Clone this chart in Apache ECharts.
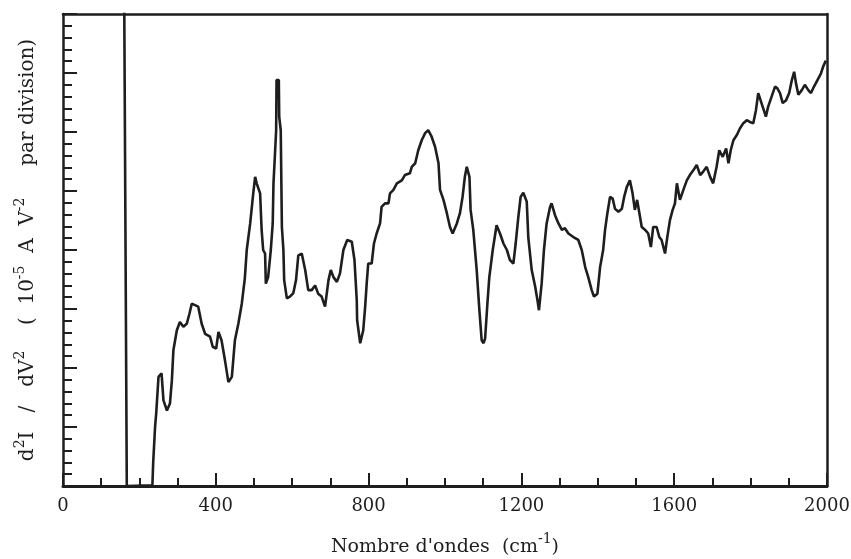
<!DOCTYPE html>
<html>
<head>
<meta charset="utf-8">
<script src="https://cdn.jsdelivr.net/npm/echarts@6/dist/echarts.min.js"></script>
<style>
  html, body { margin: 0; padding: 0; background: #fff; }
  #chart { width: 851px; height: 559px; }
</style>
</head>
<body>
<div id="chart"></div>
<script>
// wave numbers (cm-1)
var waveNumbers = [
    160, 167, 234, 236, 241, 244, 250, 258, 263, 272, 280, 285, 289, 298, 306, 315, 324, 331, 337, 354, 363, 372,
    385, 392, 401, 407, 415, 424, 433, 442, 450, 459, 468, 476, 481, 490, 498, 503, 507, 516, 520, 524, 529, 531,
    537, 544, 549, 551, 555, 558, 559, 565, 566, 570, 573, 577, 579, 586, 594, 603, 610, 616, 625, 634, 642, 651,
    660, 668, 677, 686, 695, 701, 708, 717, 725, 734, 744, 756, 763, 769, 770, 778, 786, 791, 795, 799, 808, 814,
    821, 830, 834, 843, 852, 856, 865, 874, 887, 895, 908, 913, 922, 930, 939, 948, 956, 965, 974, 983, 987, 996,
    1005, 1013, 1020, 1031, 1039, 1046, 1052, 1057, 1064, 1067, 1074, 1083, 1090, 1096, 1101, 1105, 1111, 1116,
    1125, 1135, 1144, 1153, 1162, 1170, 1179, 1185, 1192, 1198, 1205, 1214, 1218, 1227, 1236, 1242, 1246, 1253,
    1259, 1266, 1275, 1279, 1288, 1297, 1306, 1314, 1323, 1336, 1349, 1358, 1367, 1375, 1384, 1390, 1399, 1406,
    1414, 1419, 1425, 1432, 1439, 1445, 1454, 1463, 1469, 1476, 1484, 1491, 1497, 1503, 1509, 1515, 1524, 1532,
    1539, 1545, 1554, 1561, 1567, 1576, 1582, 1589, 1596, 1602, 1607, 1615, 1624, 1633, 1641, 1650, 1659, 1668,
    1676, 1685, 1694, 1702, 1711, 1718, 1727, 1736, 1742, 1748, 1755, 1764, 1772, 1781, 1790, 1798, 1807, 1814,
    1820, 1826, 1833, 1840, 1846, 1855, 1864, 1870, 1877, 1884, 1893, 1901, 1908, 1914, 1919, 1925, 1934, 1942,
    1951, 1958, 1966, 1975, 1984, 1990, 1997
];
// d2I/dV2 in divisions (10-5 A V-2 per division)
var signal = [
    8.6, 0, 0.01, 0.38, 1.00, 1.23, 1.85, 1.91, 1.45, 1.28, 1.40, 1.79, 2.30, 2.64, 2.78, 2.70, 2.75, 2.92, 3.09,
    3.04, 2.75, 2.58, 2.53, 2.36, 2.33, 2.61, 2.47, 2.13, 1.76, 1.85, 2.47, 2.75, 3.09, 3.52, 4.00, 4.45, 4.96,
    5.24, 5.13, 4.96, 4.34, 4.00, 3.94, 3.43, 3.54, 4.00, 4.45, 5.13, 5.64, 6.03, 6.88, 6.88, 6.26, 6.03, 4.39,
    4.00, 3.49, 3.18, 3.21, 3.27, 3.49, 3.91, 3.94, 3.66, 3.32, 3.32, 3.40, 3.26, 3.21, 3.04, 3.49, 3.66, 3.54,
    3.46, 3.60, 4.00, 4.17, 4.14, 3.83, 3.15, 2.81, 2.42, 2.64, 3.04, 3.43, 3.77, 3.77, 4.11, 4.28, 4.45, 4.73,
    4.79, 4.79, 4.96, 5.02, 5.13, 5.18, 5.27, 5.30, 5.41, 5.47, 5.69, 5.86, 5.98, 6.03, 5.92, 5.75, 5.47, 5.02,
    4.85, 4.62, 4.39, 4.28, 4.45, 4.62, 4.90, 5.24, 5.41, 5.24, 4.68, 4.34, 3.66, 2.98, 2.47, 2.42, 2.50, 3.09,
    3.54, 4.00, 4.42, 4.28, 4.11, 4.00, 3.83, 3.77, 4.11, 4.56, 4.90, 4.97, 4.82, 4.22, 3.66, 3.38, 3.15, 2.98,
    3.43, 4.00, 4.45, 4.73, 4.79, 4.59, 4.45, 4.34, 4.37, 4.28, 4.22, 4.17, 4.00, 3.71, 3.54, 3.32, 3.21, 3.26,
    3.71, 4.00, 4.34, 4.62, 4.90, 4.87, 4.70, 4.65, 4.70, 4.90, 5.07, 5.18, 4.96, 4.68, 4.85, 4.62, 4.39, 4.34,
    4.28, 4.05, 4.39, 4.39, 4.22, 4.17, 3.94, 4.22, 4.51, 4.68, 4.79, 5.13, 4.85, 5.02, 5.18, 5.27, 5.35, 5.44,
    5.27, 5.33, 5.41, 5.24, 5.13, 5.41, 5.69, 5.58, 5.72, 5.47, 5.69, 5.86, 5.95, 6.06, 6.15, 6.20, 6.17, 6.15,
    6.37, 6.66, 6.54, 6.40, 6.26, 6.43, 6.60, 6.77, 6.74, 6.66, 6.49, 6.54, 6.66, 6.88, 7.02, 6.82, 6.63, 6.71,
    6.80, 6.71, 6.66, 6.77, 6.88, 6.99, 7.11, 7.21
];
var xTicks = [0, 400, 800, 1200, 1600, 2000];

var chart = echarts.init(document.getElementById('chart'));

var seriesData = [];
for (let i = 0; i < waveNumbers.length; i++) {
    seriesData.push([waveNumbers[i], signal[i]]);
}

var ink = '#1e1e1e';
var serif = '"DejaVu Serif", "Liberation Serif", serif';

chart.setOption({
    animation: false,
    backgroundColor: '#fff',
    grid: {
        left: 63,
        right: 24,
        top: 14,
        bottom: 73,
        containLabel: false,
        outerBoundsMode: 'none'
    },
    xAxis: [{
        type: 'value',
        min: xTicks[0],
        max: xTicks[xTicks.length - 1],
        interval: 400,
        name: 'Nombre d\'ondes  (cm{sup|-1})',
        nameLocation: 'middle',
        nameGap: 46,
        nameTextStyle: {
            color: ink,
            fontFamily: serif,
            fontSize: 19,
            lineHeight: 30,
            rich: {
                sup: { fontSize: 14, lineHeight: 15, verticalAlign: 'top', fontFamily: serif, color: ink }
            }
        },
        axisLine: { lineStyle: { color: ink, width: 3 } },
        axisTick: { inside: true, length: 13, lineStyle: { color: ink, width: 2 } },
        minorTick: { show: true, splitNumber: 4, length: 8, lineStyle: { color: ink, width: 2 } },
        axisLabel: {
            color: ink,
            fontFamily: serif,
            fontSize: 18,
            margin: 11,
            formatter: function (value) {
                return String(value);
            }
        },
        splitLine: { show: false }
    }, {
        type: 'value',
        position: 'top',
        min: 0,
        max: 2000,
        axisLine: { show: true, onZero: false, lineStyle: { color: ink, width: 2.5 } },
        axisTick: { show: false },
        axisLabel: { show: false },
        splitLine: { show: false }
    }],
    yAxis: [{
        type: 'value',
        min: 0,
        max: 8,
        interval: 1,
        name: 'd{sup|2}I   /   dV{sup|2}    (  10{sup|-5}  A  V{sup|-2}     par division)',
        nameLocation: 'middle',
        nameGap: 20,
        nameRotate: 90,
        nameTextStyle: {
            color: ink,
            fontFamily: serif,
            fontSize: 20,
            lineHeight: 30,
            rich: {
                sup: { fontSize: 14, lineHeight: 15, verticalAlign: 'top', fontFamily: serif, color: ink }
            }
        },
        axisLine: { show: true, lineStyle: { color: ink, width: 2.5 } },
        axisTick: { inside: true, length: 14, lineStyle: { color: ink, width: 2 } },
        minorTick: { show: true, splitNumber: 5, length: 9, lineStyle: { color: ink, width: 2 } },
        axisLabel: { show: false },
        splitLine: { show: false }
    }, {
        type: 'value',
        position: 'right',
        min: 0,
        max: 8,
        axisLine: { show: true, onZero: false, lineStyle: { color: ink, width: 2.5 } },
        axisTick: { show: false },
        axisLabel: { show: false },
        splitLine: { show: false }
    }],
    series: [{
        type: 'line',
        data: seriesData,
        showSymbol: false,
        clip: true,
        lineStyle: { color: ink, width: 2.6 },
        silent: true
    }]
});
</script>
</body>
</html>
